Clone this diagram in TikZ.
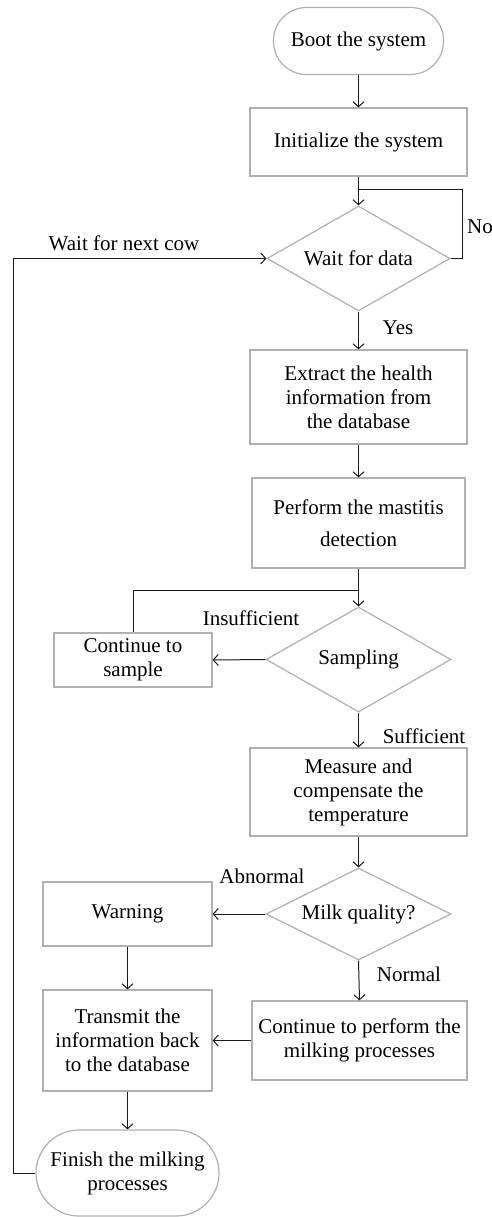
\documentclass[tikz,border=0pt]{standalone}
\usepackage{fontspec}
\setmainfont{Liberation Serif}
\usetikzlibrary{arrows.meta,shapes.geometric}
\definecolor{boxgray}{HTML}{B0B0B0}
\definecolor{linec}{HTML}{1A1A1A}
\begin{document}
\begin{tikzpicture}[x=1pt,y=-1pt,
  every node/.style={font=\fontsize{21}{24}\selectfont, text=black},
  procbox/.style={draw=boxgray, line width=1.2pt, rectangle, align=center, inner sep=2pt},
  termbox/.style={draw=boxgray, line width=1.2pt, rectangle, align=center, inner sep=2pt},
  decbox/.style={draw=boxgray, line width=1.2pt, diamond, align=center, inner sep=0pt},
  lbl/.style={inner sep=0pt},
  conn/.style={draw=linec, line width=1pt},
  arr/.style={conn, -{Straight Barb[length=5pt,width=11pt,line width=1pt]}}
]
\useasboundingbox (0,0) rectangle (492,1217);
\node[termbox, minimum width=170, minimum height=67, rounded corners=33pt] (boot) at (358.5,41) {Boot the system};
\node[procbox, minimum width=217, minimum height=68] (init) at (358.5,142) {Initialize the system};
\node[decbox, aspect=1.74, minimum width=183, minimum height=105] (wait) at (358.5,258.5) {Wait for data};
\node[procbox, minimum width=217, minimum height=94] (extract) at (358.5,397) {Extract the health\\information from\\the database};
\node[procbox, minimum width=213, minimum height=90, font=\fontsize{21}{32}\selectfont] (perform) at (358.5,523) {Perform the mastitis\\detection};
\node[decbox, aspect=1.76, minimum width=185, minimum height=105] (samp) at (358.5,659.5) {Sampling};
\node[procbox, minimum width=158, minimum height=54] (cont) at (133,660) {Continue to\\sample};
\node[procbox, minimum width=217, minimum height=88] (measure) at (358.5,792) {Measure and\\compensate the\\temperature};
\node[decbox, aspect=2, minimum width=185, minimum height=92] (milk) at (358.5,914) {Milk quality?};
\node[procbox, minimum width=169, minimum height=64] (warn) at (127.5,914) {Warning};
\node[procbox, minimum width=169, minimum height=101] (trans) at (127.5,1040.5) {Transmit the\\information back\\to the database};
\node[procbox, minimum width=215, minimum height=79] (contperf) at (359.5,1040.5) {Continue to perform the\\milking processes};
\node[termbox, minimum width=183, minimum height=86, rounded corners=43pt] (finish) at (127.5,1173) {Finish the milking\\processes};

\coordinate (j1) at (358.5,190);
\coordinate (j2) at (358.5,590);
\coordinate (lft) at (13,258.5);

\draw[arr] (boot.south) -- (init.north);
\draw[arr] (init.south) -- (wait.north);
\draw[conn] (wait.east) -- ++(12,0) |- (j1);
\draw[arr] (finish.west) -| (lft) -- (wait.west);
\draw[arr] (wait.south) -- (extract.north);
\draw[arr] (extract.south) -- (perform.north);
\draw[arr] (perform.south) -- (samp.north);
\draw[conn] (j2) -| (cont.north);
\draw[arr] (samp.west) -- (cont.east);
\draw[arr] (samp.south) -- (measure.north);
\draw[arr] (measure.south) -- (milk.north);
\draw[arr] (milk.west) -- (warn.east);
\draw[arr] (milk.south) -- (contperf.north);
\draw[arr] (warn.south) -- (trans.north);
\draw[arr] (contperf.west) -- (trans.east);
\draw[arr] (trans.south) -- (finish.north);

\node[lbl] (lno) at (480,227) {No};
\node[lbl] (lnext) at (124,243) {Wait for next cow};
\node[lbl] (lyes) at (398,328) {Yes};
\node[lbl] (lins) at (251,618) {Insufficient};
\node[lbl] (lsuf) at (424,736) {Sufficient};
\node[lbl] (labn) at (262,876) {Abnormal};
\node[lbl] (lnor) at (409,974) {Normal};
\end{tikzpicture}
\end{document}
